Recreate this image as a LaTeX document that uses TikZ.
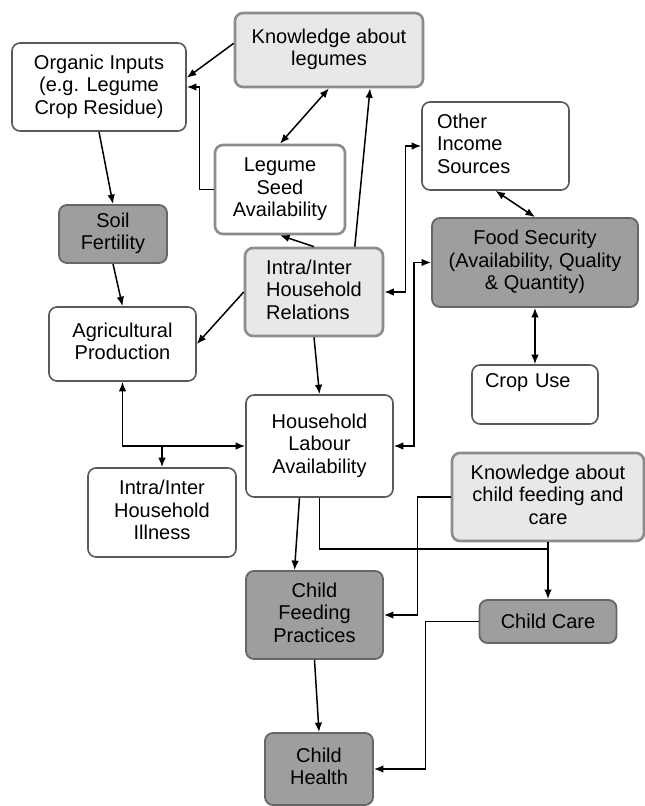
\documentclass[tikz,border=0pt]{standalone}
\usepackage{fontspec}
\setmainfont{Liberation Sans}
\usetikzlibrary{arrows.meta}

\begin{document}
\begin{tikzpicture}[x=1pt, y=-1pt, line width=1.5pt, font=\fontsize{20}{22.5}\selectfont,
    head/.tip={Latex[length=9.5pt,width=7.5pt]},
    whitebox/.style={draw=black!65, line width=1.6pt, fill=white, rectangle, rounded corners=8pt},
    lightbox/.style={draw=black!45, line width=2.6pt, fill=black!9, rectangle, rounded corners=8pt},
    darkbox/.style={draw=black!60, line width=1.8pt, fill=black!38, rectangle, rounded corners=8pt}]
    \fill[white] (0,0) rectangle (645,806);
    \useasboundingbox (0,0) rectangle (645,806);

    \node[whitebox, minimum width=174, minimum height=88] (organic) at (99,87) {
      \begin{tabular}{c}
        Organic Inputs \\
        (e.g. Legume \\
        Crop Residue)
      \end{tabular}
    };
    \node[lightbox, minimum width=188, minimum height=74] (knowleg) at (329,50) {
      \begin{tabular}{c}
        Knowledge about \\
        legumes
      \end{tabular}
    };
    \node[lightbox, fill=white, minimum width=130, minimum height=89] (seed) at (280,189.5) {
      \begin{tabular}{c}
        Legume \\
        Seed \\
        Availability
      \end{tabular}
    };
    \node[darkbox, minimum width=108, minimum height=58] (soil) at (113,234) {
      \begin{tabular}{c}
        Soil \\
        Fertility
      \end{tabular}
    };
    \node[lightbox, minimum width=138, minimum height=88] (relations) at (314,292) {
      \begin{tabular}{l}
        Intra/Inter \\
        Household \\
        Relations
      \end{tabular}
    };
    \node[whitebox, minimum height=88, text width=117, inner xsep=15pt, align=left] (income) at (495.5,146) {
      \begin{tabular}{@{}l@{}}
        Other \\
        Income \\
        Sources
      \end{tabular}
    };
    \node[darkbox, minimum width=206, minimum height=89] (food) at (535,262.5) {
      \begin{tabular}{c}
        Food Security \\
        (Availability, Quality \\
        \& Quantity)
      \end{tabular}
    };
    \node[whitebox, minimum width=147, minimum height=74] (agri) at (122.5,344) {
      \begin{tabular}{c}
        Agricultural \\
        Production
      \end{tabular}
    };
    \node[whitebox, minimum height=59, text width=100, inner xsep=13pt, align=left] (cropuse) at (535,394.5) {
      \begin{tabular}{@{}l@{}}
        Crop Use \\
        \mbox{}
      \end{tabular}
    };
    \node[whitebox, minimum width=147, minimum height=102] (labour) at (319.5,446) {
      \begin{tabular}{c}
        Household \\
        Labour \\
        Availability
      \end{tabular}
    };
    \node[whitebox, minimum width=148, minimum height=89] (illness) at (162,512.5) {
      \begin{tabular}{c}
        Intra/Inter \\
        Household \\
        Illness
      \end{tabular}
    };
    \node[lightbox, minimum width=192, minimum height=88] (knowchild) at (548,497) {
      \begin{tabular}{c}
        Knowledge about \\
        child feeding and \\
        care
      \end{tabular}
    };
    \node[darkbox, minimum width=137, minimum height=88] (feeding) at (314.5,615) {
      \begin{tabular}{c}
        Child \\
        Feeding \\
        Practices
      \end{tabular}
    };
    \node[darkbox, minimum width=137, minimum height=43] (care) at (548,621.5) {Child Care};
    \node[darkbox, minimum width=108, minimum height=72] (health) at (319,769) {
      \begin{tabular}{c}
        Child \\
        Health
      \end{tabular}
    };

    \draw[-head] (knowleg.176) -- (organic.6);
    \draw[-head] (seed.west) -- ++(-14,0) |- (organic.east);
    \draw[head-head] (knowleg.south) -- (seed.north);
    \draw[-head] (relations.48) -- (knowleg.-43);
    \draw[-head] (relations.north) -- (seed.south);
    \draw[-head] (organic.south) -- (soil.north);
    \draw[-head] (soil.south) -- (agri.north);
    \draw[-head] (relations.west) -- (agri.east);
    \draw[head-head] (relations.east) -- ++(21,0) |- (income.west);
    \draw[head-head] (income.south) -- (food.north);
    \draw[head-head] (food.south) -- (cropuse.north);
    \draw[head-head] (labour.east) -- ++(20,0) |- (food.west);
    \draw[-head] (relations.south) -- (labour.north);
    \draw[head-head] (agri.south) |- (labour.west);
    \draw[-head] (illness.north |- labour.west) -- (illness.north);
    \draw[-head] ([xshift=-20pt]labour.south) -- ([xshift=-20pt]feeding.north);
    \draw[-head] (labour.south) -- ++(0,51) coordinate (bend) -| (care.north);
    \draw (knowchild.south) -- (knowchild.south |- bend);
    \draw[-head] (knowchild.west) -- ++(-33,0) |- (feeding.east);
    \draw[-head] (feeding.south) -- (health.north);
    \draw[-head] (care.west) -- ++(-53,0) |- (health.east);
  \end{tikzpicture}
\end{document}
